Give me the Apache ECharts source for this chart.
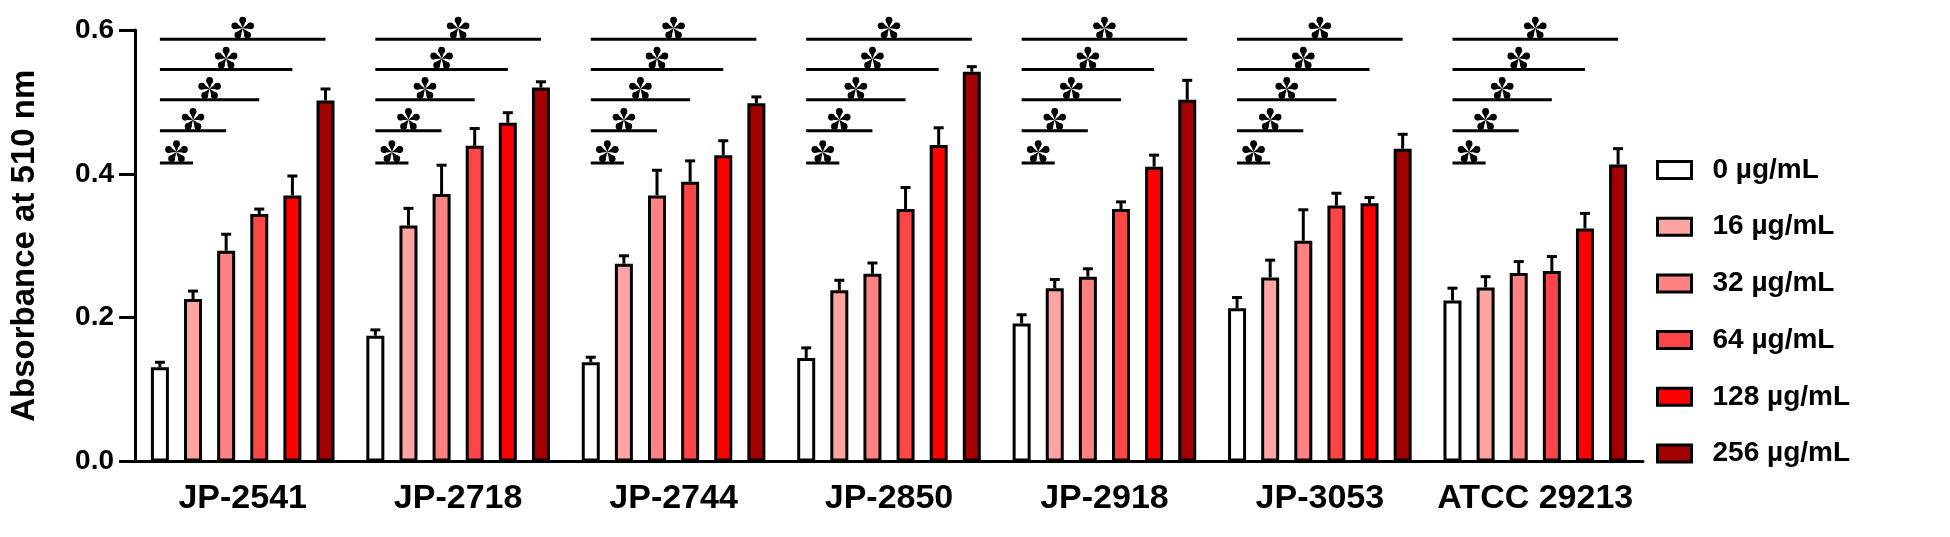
<!DOCTYPE html>
<html lang="en" style="height: 100%">
<head>
    <meta charset="utf-8">
    <title>Absorbance at 510 nm</title>
    <script src="https://cdn.jsdelivr.net/npm/echarts@6/dist/echarts.min.js"></script>
    <style>
        html, body { margin: 0; padding: 0; background: #fff; }
        #chart { width: 1950px; height: 537px; }
    </style>
</head>
<body>
<div id="chart"></div>
<script type="text/javascript">
    // categories and doses
    var strains = ['JP-2541', 'JP-2718', 'JP-2744', 'JP-2850', 'JP-2918', 'JP-3053', 'ATCC 29213'];
    var doses = ['0 µg/mL', '16 µg/mL', '32 µg/mL', '64 µg/mL', '128 µg/mL', '256 µg/mL'];

    // mean absorbance, one array per dose
    var dose0   = [0.131, 0.175, 0.138, 0.144, 0.192, 0.213, 0.224];
    var dose16  = [0.226, 0.328, 0.275, 0.238, 0.241, 0.256, 0.242];
    var dose32  = [0.293, 0.372, 0.370, 0.261, 0.257, 0.307, 0.262];
    var dose64  = [0.344, 0.439, 0.389, 0.351, 0.351, 0.356, 0.265];
    var dose128 = [0.370, 0.471, 0.426, 0.440, 0.410, 0.359, 0.324];
    var dose256 = [0.502, 0.520, 0.498, 0.542, 0.503, 0.435, 0.413];

    // upper error bars (SD)
    var err0   = [0.007, 0.008, 0.007, 0.014, 0.012, 0.015, 0.017];
    var err16  = [0.011, 0.024, 0.011, 0.014, 0.012, 0.024, 0.015];
    var err32  = [0.023, 0.040, 0.035, 0.015, 0.011, 0.043, 0.016];
    var err64  = [0.007, 0.024, 0.029, 0.030, 0.010, 0.017, 0.020];
    var err128 = [0.027, 0.014, 0.020, 0.024, 0.016, 0.008, 0.021];
    var err256 = [0.016, 0.008, 0.009, 0.007, 0.027, 0.020, 0.022];

    // heights of the significance brackets (0 vs 16, 0 vs 32 ... 0 vs 256)
    var sigLevels = [0.415, 0.460, 0.503, 0.545, 0.587];

    var yTicks = [0, 0.2, 0.4, 0.6];

    var means = [dose0, dose16, dose32, dose64, dose128, dose256];
    var errs = [err0, err16, err32, err64, err128, err256];
    var colors = ['#ffffff', '#ffa3a3', '#ff8282', '#ff4545', '#ff0000', '#a30000'];

    var BAR_W = 18;
    var BAR_GAP = 0.84;
    var STEP = BAR_W * (1 + BAR_GAP);   // distance between bar centres in a group
    var FONT = 'Liberation Sans, Arial, sans-serif';

    function barOffset(k) {
        return (k - (doses.length - 1) / 2) * STEP;
    }

    var barSeries = doses.map(function (d, k) {
        return {
            name: d,
            type: 'bar',
            data: means[k],
            barWidth: BAR_W,
            barGap: (BAR_GAP * 100) + '%',
            itemStyle: { color: colors[k], borderColor: '#000', borderWidth: 3 },
            z: 2
        };
    });

    var errData = [];
    means.forEach(function (arr, k) {
        arr.forEach(function (v, i) {
            errData.push([i, k, v, errs[k][i]]);
        });
    });

    var sigData = [];
    strains.forEach(function (s, i) {
        sigLevels.forEach(function (lv, j) {
            sigData.push([i, j, lv]);
        });
    });

    // 5-petal asterisk drawn from teardrops
    function asterisk(cx, cy) {
        var kids = [];
        var R = 8.3, rc = 3.4;
        for (var p = 0; p < 5; p++) {
            var a = -Math.PI / 2 + p * 2 * Math.PI / 5;
            var ex = cx + R * Math.cos(a), ey = cy + R * Math.sin(a);
            var nx = -Math.sin(a) * rc, ny = Math.cos(a) * rc;
            kids.push({
                type: 'polygon',
                shape: { points: [[cx, cy], [ex + nx, ey + ny], [ex - nx, ey - ny]] },
                style: { fill: '#000' }
            });
            kids.push({
                type: 'circle',
                shape: { cx: ex, cy: ey, r: rc },
                style: { fill: '#000' }
            });
        }
        return kids;
    }

    var chart = echarts.init(document.getElementById('chart'), null, { renderer: 'canvas' });

    var option = {
        animation: false,
        backgroundColor: '#fff',
        textStyle: { fontFamily: FONT },
        grid: { left: 116, right: 307, top: 30, bottom: 75.5, containLabel: false },
        legend: {
            data: doses,
            orient: 'vertical',
            left: 1651,
            top: 151,
            icon: 'rect',
            itemWidth: 34,
            itemHeight: 17,
            itemGap: 28.7,
            itemStyle: { borderColor: '#000', borderWidth: 3 },
            textStyle: {
                fontFamily: FONT, fontSize: 28, fontWeight: 'bold', color: '#000',
                lineHeight: 28, padding: [0, 0, 0, 16]
            }
        },
        xAxis: {
            type: 'category',
            data: strains,
            axisLine: { lineStyle: { color: '#000', width: 3 } },
            axisTick: { alignWithLabel: true, interval: 0, length: 17, lineStyle: { color: '#000', width: 3 } },
            axisLabel: { interval: 0, color: '#000', fontFamily: FONT, fontSize: 34, fontWeight: 'bold', margin: 20 }
        },
        yAxis: {
            type: 'value',
            min: yTicks[0],
            max: yTicks[yTicks.length - 1],
            interval: 0.2,
            name: 'Absorbance at 510 nm',
            nameLocation: 'middle',
            nameRotate: 90,
            nameGap: 94,
            nameTextStyle: { color: '#000', fontFamily: FONT, fontSize: 33, fontWeight: 'bold' },
            axisLine: { show: true, lineStyle: { color: '#000', width: 3 } },
            axisTick: { show: true, length: 16, lineStyle: { color: '#000', width: 3 } },
            splitLine: { show: false },
            axisLabel: {
                color: '#000', fontFamily: FONT, fontSize: 28, fontWeight: 'bold', margin: 21,
                formatter: function (v) { return v.toFixed(1); }
            }
        },
        series: barSeries.concat([
            {
                type: 'custom',
                name: 'err',
                data: errData,
                encode: { x: 0, y: 2 },
                z: 3,
                renderItem: function (params, api) {
                    var i = api.value(0), k = api.value(1);
                    var v = api.value(2), e = api.value(3);
                    var p0 = api.coord([i, v]);
                    var p1 = api.coord([i, v + e]);
                    var x = p0[0] + barOffset(k);
                    var st = { stroke: '#000', lineWidth: 3 };
                    return {
                        type: 'group',
                        children: [
                            { type: 'line', shape: { x1: x, y1: p0[1], x2: x, y2: p1[1] }, style: st },
                            { type: 'line', shape: { x1: x - 5, y1: p1[1], x2: x + 5, y2: p1[1] }, style: st }
                        ]
                    };
                }
            },
            {
                type: 'custom',
                name: 'sig',
                data: sigData,
                encode: { x: 0, y: 2 },
                z: 3,
                renderItem: function (params, api) {
                    var i = api.value(0), j = api.value(1), lv = api.value(2);
                    var p = api.coord([i, lv]);
                    var x0 = p[0] + barOffset(0);
                    var x1 = p[0] + barOffset(j + 1);
                    var kids = [{
                        type: 'line',
                        shape: { x1: x0, y1: p[1], x2: x1, y2: p[1] },
                        style: { stroke: '#000', lineWidth: 3 }
                    }];
                    return {
                        type: 'group',
                        children: kids.concat(asterisk((x0 + x1) / 2, p[1] - 11))
                    };
                }
            }
        ])
    };

    chart.setOption(option);
</script>
</body>
</html>
